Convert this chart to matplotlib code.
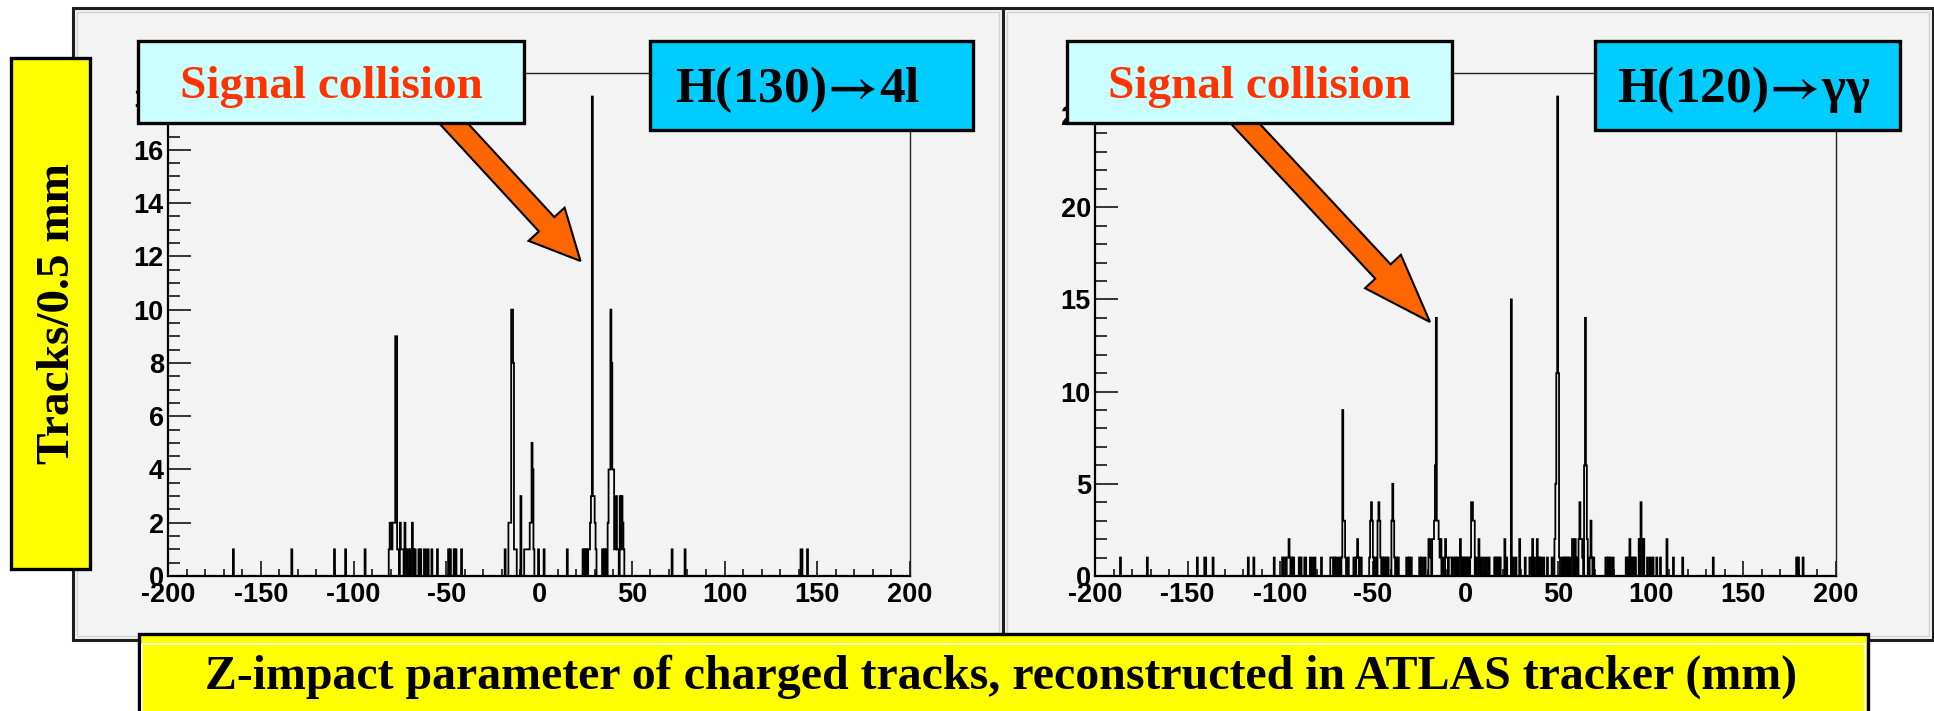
import numpy as np
import matplotlib.pyplot as plt
import matplotlib.transforms as mtransforms
from matplotlib.patches import Rectangle, FancyArrow
from matplotlib.ticker import MultipleLocator, FuncFormatter

plt.rcParams['axes.unicode_minus'] = False
plt.rcParams['font.family'] = ['Liberation Sans', 'DejaVu Sans']
plt.rcParams['font.weight'] = 'bold'
plt.rcParams['mathtext.fontset'] = 'stix'

W, H = 1934, 711
bin_edges = np.arange(-200.0, 200.25, 0.5)

# H(130) -> 4l event: non-empty 0.5 mm bins (lower edge, mm) and tracks in each
z_4l = [-165.0, -133.5, -110.5, -104.5, -94.0,
        -81.0, -80.5, -80.0, -79.5, -79.0, -78.5, -78.0, -77.5, -77.0, -76.5, -76.0,
        -75.0, -74.5, -74.0, -73.5, -72.5, -72.0, -71.0, -70.5, -69.5, -68.5, -68.0, -67.0,
        -65.0, -64.0, -62.0, -61.5, -60.0, -58.0, -55.0, -49.0, -48.0, -46.0, -45.0, -42.0,
        -18.5, -16.5, -16.0, -15.5, -15.0, -14.5, -14.0, -13.5, -13.0, -12.5, -10.0,
        -8.0, -7.5, -7.0, -6.5, -6.0, -5.5, -5.0, -4.5, -4.0, -3.5, -3.0, -0.5, 2.5,
        15.0, 23.5, 24.5, 25.5, 26.5, 27.0, 27.5, 28.0, 28.5, 29.0, 29.5, 30.0, 30.5,
        34.0, 35.0, 36.0, 37.0, 37.5, 38.0, 38.5, 39.0, 39.5, 40.0, 40.5, 41.0, 41.5,
        42.0, 42.5, 43.5, 44.0, 44.5, 45.0, 45.5, 71.5, 78.5, 141.0, 141.5, 144.5]
n_4l = [1, 1, 1, 1, 1,
        1, 2, 2, 1, 2, 2, 2, 9, 9, 1, 1,
        2, 1, 1, 1, 2, 1, 1, 1, 1, 2, 1, 1,
        1, 1, 1, 1, 1, 1, 1, 1, 1, 1, 1, 1,
        1, 2, 2, 2, 10, 10, 8, 1, 1, 1, 3,
        1, 1, 1, 1, 1, 1, 2, 2, 5, 4, 1, 1, 1,
        1, 1, 1, 1, 1, 1, 2, 3, 18, 3, 3, 2, 1,
        1, 1, 1, 2, 4, 4, 10, 8, 4, 4, 1, 1, 3,
        1, 1, 3, 1, 3, 2, 1, 1, 1, 1, 1, 1]

# H(120) -> gamma gamma event
z_gg = [-186.5, -172.0, -145.0, -141.0, -140.5, -136.5, -117.5, -114.5, -103.5,
        -99.0, -98.0, -97.5, -96.5, -96.0, -95.5, -95.0, -94.0, -93.0, -90.0, -89.0,
        -87.0, -86.5, -84.0, -83.5, -82.0, -81.5, -78.0, -73.0, -72.5, -72.0, -71.0,
        -70.0, -69.5, -68.0, -67.0, -66.5, -66.0, -65.5, -65.0, -63.5, -60.5, -60.0,
        -59.0, -58.5, -58.0, -57.0, -56.5, -52.0, -51.5, -51.0, -50.5, -50.0, -49.0,
        -48.5, -47.5, -47.0, -46.5, -46.0, -45.0, -44.0, -43.0, -42.0, -40.0, -39.5,
        -39.0, -38.5, -37.5, -36.5, -32.0, -31.5, -30.5, -29.5, -25.0, -24.0, -23.5,
        -22.0, -20.0, -19.5, -19.0, -18.0, -17.5, -17.0, -16.5, -16.0, -15.5, -15.0,
        -14.5, -14.0, -13.5, -12.5, -11.0, -10.5, -10.0, -9.0, -8.5, -8.0, -7.0, -6.5,
        -5.5, -4.5, -3.0, -2.5, -1.5, -0.5, 0.5, 1.5, 2.5, 3.0, 3.5, 4.0, 4.5, 5.5,
        7.0, 8.0, 9.5, 11.0, 12.5, 15.5, 16.5, 17.5, 18.5, 21.0, 22.0, 24.5, 25.5,
        27.0, 29.0, 32.0, 34.5, 35.0, 36.0, 37.0, 38.5, 39.5, 40.5, 42.0, 44.0, 46.5,
        48.0, 48.5, 49.0, 49.5, 50.0, 50.5, 52.0, 53.0, 54.0, 55.0, 56.0, 57.5, 58.0,
        59.0, 60.0, 61.0, 61.5, 62.0, 62.5, 63.0, 64.0, 64.5, 65.0, 65.5, 67.0, 67.5,
        68.0, 69.0, 75.5, 76.0, 77.0, 78.0, 79.5, 86.5, 87.5, 88.5, 89.5, 90.5, 91.5,
        93.5, 94.5, 95.0, 96.0, 98.0, 99.5, 101.0, 103.0, 105.0, 108.5, 112.0, 117.0,
        133.5, 178.5, 179.5, 182.0]
n_gg = [1, 1, 1, 1, 1, 1, 1, 1, 1,
        1, 1, 1, 1, 1, 2, 1, 1, 1, 1, 1,
        1, 1, 1, 1, 1, 1, 1, 1, 1, 1, 1,
        1, 1, 1, 1, 9, 3, 3, 1, 1, 1, 1,
        1, 2, 1, 1, 1, 1, 3, 4, 3, 1, 1,
        1, 3, 4, 3, 1, 1, 1, 1, 1, 3, 5,
        3, 1, 1, 1, 1, 1, 1, 1, 1, 1, 1,
        1, 2, 2, 1, 2, 2, 3, 6, 14, 3, 3,
        2, 1, 2, 1, 2, 1, 1, 1, 1, 1, 1, 1,
        1, 1, 2, 1, 1, 1, 1, 1, 1, 4, 4, 3, 3, 1,
        2, 1, 1, 1, 1, 1, 1, 1, 1, 2, 1, 15, 1,
        1, 2, 1, 1, 1, 2, 1, 2, 1, 1, 1, 1, 1,
        2, 5, 11, 26, 11, 1, 1, 1, 1, 1, 1, 2, 2,
        2, 1, 2, 4, 2, 2, 1, 6, 14, 6, 2, 1, 3,
        1, 1, 1, 1, 1, 1, 1, 1, 1, 2, 1, 1, 1,
        2, 4, 2, 2, 1, 1, 1, 1, 1, 2, 1, 1,
        1, 1, 1, 1]

x_major, x_minor = 50, 10
serif = ['Liberation Serif', 'DejaVu Serif']


def to_counts(z, n):
    counts = np.zeros(len(bin_edges) - 1)
    idx = np.round((np.asarray(z) + 200.0) / 0.5).astype(int)
    counts[idx] = n
    return counts


fig = plt.figure(figsize=(W / 100, H / 100), dpi=100)
fig.patch.set_facecolor('white')
# pixel coordinates of the reference image, origin top-left
px = mtransforms.Affine2D().scale(1.0 / W, -1.0 / H).translate(0, 1) + fig.transFigure

# the two canvas pads
for x0 in (73, 1003):
    fig.add_artist(Rectangle((x0, 8), 930, 632, transform=px, fc='#f3f3f3',
                             ec='#1e1e1e', lw=2.2, zorder=-10))
    fig.add_artist(Rectangle((x0 + 4, 12), 922, 624, transform=px, fill=False,
                             ec='#d2d2d2', lw=1, zorder=-9))


def make_axes(x0, x1, z, n, ymax, ymaj, ymin):
    ax = fig.add_axes([x0 / W, 1 - 576 / H, (x1 - x0) / W, (576 - 72.6) / H])
    ax.set_facecolor('#f3f3f3')
    ax.stairs(to_counts(z, n), bin_edges, color='black', lw=1.3)
    ax.set_xlim(-200, 200)
    ax.set_ylim(0, ymax)
    ax.xaxis.set_major_locator(MultipleLocator(x_major))
    ax.xaxis.set_minor_locator(MultipleLocator(x_minor))
    ax.yaxis.set_major_locator(MultipleLocator(ymaj))
    ax.yaxis.set_minor_locator(MultipleLocator(ymin))
    fmt = FuncFormatter(lambda v, p: f"{v:g}")
    ax.xaxis.set_major_formatter(fmt)
    ax.yaxis.set_major_formatter(fmt)
    ax.tick_params(which='both', direction='in', top=False, right=False,
                   color='black', width=1.1, labelsize=19.5)
    ax.tick_params(axis='y', which='major', length=16.5, pad=3)
    ax.tick_params(axis='y', which='minor', length=8.3)
    ax.tick_params(axis='x', which='major', length=10.8, pad=4)
    ax.tick_params(axis='x', which='minor', length=5.4)
    ax.spines['left'].set_linewidth(1.6)
    ax.spines['bottom'].set_linewidth(1.6)
    for s in ('top', 'right'):
        ax.spines[s].set_linewidth(1.0)
        ax.spines[s].set_color('#222222')
    return ax


ax1 = make_axes(168, 910, z_4l, n_4l, 18.9, 2, 0.5)
ax2 = make_axes(1095, 1836, z_gg, n_gg, 27.3, 5, 1)

# arrows pointing to the signal vertex
arrows = [((580.5, 261.0), (0.678, 0.735), 50), ((1430.0, 322.0), (0.682, 0.732), 69)]
for (tx, ty), (ux, uy), hl in arrows:
    L = 280
    fig.add_artist(FancyArrow(tx - L * ux, ty - L * uy, L * ux, L * uy, width=21,
                              head_width=49, head_length=hl, length_includes_head=True,
                              transform=px, fc='#ff6600', ec='black', lw=1.5, zorder=5))

# label boxes
boxes = [
    ((138, 41, 386, 82), '#ccffff', 'Signal collision', '#ff3300', 34, (331, 97.5)),
    ((1067, 41, 385, 82), '#ccffff', 'Signal collision', '#ff3300', 34, (1259, 97.5)),
    ((650, 41, 323, 89), '#00ccff', r'H(130)$\!\rightarrow\!$4l', 'black', 37, (798, 102)),
    ((1595, 41, 305, 89), '#00ccff', r'H(120)$\!\rightarrow\!$γγ', 'black', 37, (1744, 102)),
]
for (x0, y0, w, h), fc, s, tc, fs, (tx, ty) in boxes:
    fig.add_artist(Rectangle((x0, y0), w, h, transform=px, fc=fc, ec='black',
                             lw=2.4, zorder=6))
    fig.text(tx, ty, s, transform=px, ha='center', va='baseline', color=tc,
             fontsize=fs, fontweight='bold', family=serif, zorder=7)

# axis titles in yellow boxes
fig.add_artist(Rectangle((11, 58), 79, 511, transform=px, fc='#ffff00', ec='black',
                         lw=2.4, zorder=6))
fig.text(69, 314, 'Tracks/0.5 mm', transform=px, rotation=90, rotation_mode='anchor',
         ha='center', va='baseline', fontsize=34, fontweight='bold', family=serif, zorder=7)

fig.add_artist(Rectangle((139, 634), 1729, 90, transform=px, fc='#ffff00', ec='black',
                         lw=2.4, zorder=6))
fig.add_artist(Rectangle((142, 644), 1723, 80, transform=px, fill=False, ec='white',
                         lw=1.2, zorder=6))
fig.text(1001, 689, 'Z-impact parameter of charged tracks, reconstructed in ATLAS tracker (mm)',
         transform=px, ha='center', va='baseline', fontsize=34.5, fontweight='bold',
         family=serif, zorder=7)

fig.savefig('out.png', dpi=100)
